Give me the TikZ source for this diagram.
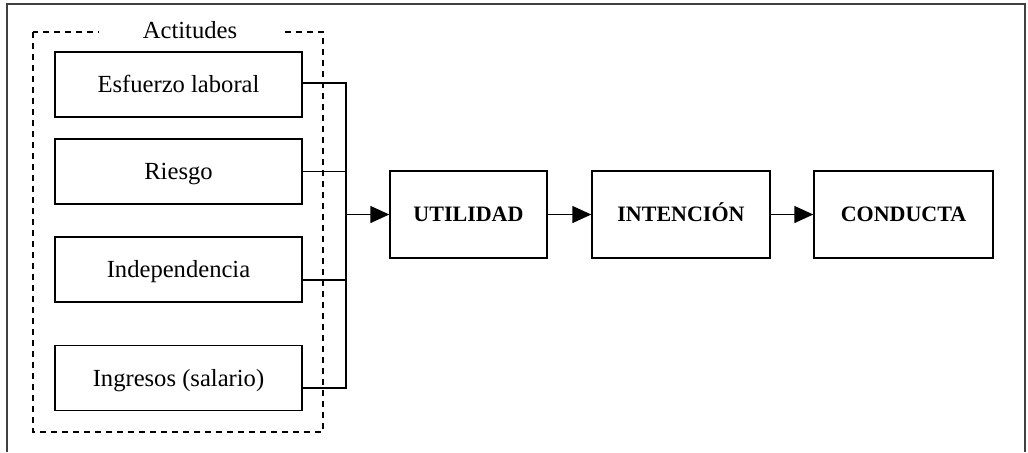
\documentclass[tikz,border=0pt]{standalone}
\usepackage{fontspec}
\setmainfont{Liberation Serif}
\usepackage{tikz}
\usetikzlibrary{arrows.meta,positioning}

\tikzset{
  actbox/.style={draw, line width=0.7pt, minimum width=123.5pt, minimum height=32.5pt, inner sep=0pt, text height=8.1pt, text depth=0pt, font=\fontsize{12.3}{14}\selectfont},
  mainbox/.style={draw, line width=0.7pt, minimum height=43.5pt, inner sep=0pt, text height=7.3pt, text depth=0pt, font=\fontsize{11}{13}\selectfont\bfseries},
  link/.style={line width=0.7pt}
}

\begin{document}
\begin{tikzpicture}[x=0.5pt, y=-0.5pt, >={Triangle[length=9.5pt,width=8.5pt]}]
        \useasboundingbox (0,0) rectangle (1028,452);
        % open frame
        \draw[line width=0.6pt, black!75] (7,452) -- (7,4) -- (1025,4) -- (1025,452);

        % dashed group
        \draw[line width=0.6pt, dash pattern=on 3pt off 2.5pt] (33,32) rectangle (323,432);
        \node[fill=white, minimum width=91.5pt, inner ysep=1pt, font=\fontsize{12.3}{14}\selectfont] (actitudes) at (190,30) {Actitudes};

        \path
        (178.5,84.5) node[actbox] (esf) {Esfuerzo laboral}
        (178.5,171.5) node[actbox] (rie) {Riesgo}
        (178.5,269.5) node[actbox] (ind) {Independencia}
        (178.5,378) node[actbox] (ing) {Ingresos (salario)}
        ;
        \path
        (468.5,214.5) node[mainbox, minimum width=78.5pt] (util) {UTILIDAD}
        (681,214.5) node[mainbox, minimum width=89pt] (inten) {INTENCIÓN}
        (903.5,214.5) node[mainbox, minimum width=89.5pt] (cond) {CONDUCTA}
        ;
        \coordinate (top) at (346,83);
        \coordinate (bot) at (346,388);
        \coordinate (bus) at (346,214.5);

        \draw[link] ([yshift=0.75pt]esf.east) -- (top) -- (bot) -- ([yshift=-5pt]ing.east);
        \draw[link] (rie.east) -- (rie.east -| bus);
        \draw[link] ([yshift=-5.25pt]ind.east) -- ([yshift=-5.25pt]ind.east -| bus);

        \draw[link,->] (bus) -- (util);
        \draw[link,->] (util) -- (inten);
        \draw[link,->] (inten) -- (cond);
\end{tikzpicture}
\end{document}
